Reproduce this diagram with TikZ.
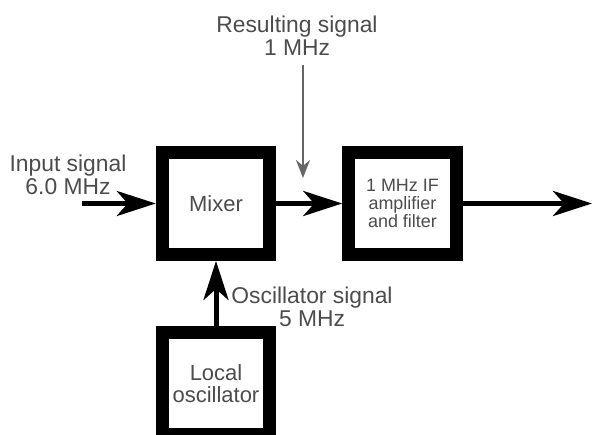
\documentclass[tikz,border=0pt]{standalone}
\usepackage{fontspec}
\setmainfont{Liberation Sans}
\usepackage{xcolor}
\usetikzlibrary{arrows.meta, positioning}

\begin{document}
\begin{tikzpicture}[
    % one unit = one pixel of the reference, y grows downwards
    x=0.02cm, y=-0.02cm,
    node distance=1.3cm and 1.32cm,
    block/.style={rectangle, draw=black, fill=white, line width=0.26cm, align=center,
                  minimum width=2.15cm, minimum height=2.04cm, text=black!70},
    label/.style={align=center, text=black!70, font=\fontsize{13}{13}\selectfont, inner sep=1pt},
    arrow/.style={line width=0.1cm, -{Stealth[length=0.78cm, width=0.5cm, inset=0.22cm]}},
    thinarrow/.style={line width=0.04cm, draw=black!60, -{Stealth[length=0.36cm, width=0.28cm]}}
]
\useasboundingbox (0,0) rectangle (592,435);

%% ── Blocks ──────────────────────────────────────────────────
\node (mixer) [block, font=\fontsize{12.5}{13}\selectfont] at (216,203.5) {Mixer};
\node (ifamp) [block, right=of mixer, font=\fontsize{10.2}{10.4}\selectfont] {1 MHz IF\\amplifier\\and filter};
\node (lo) [block, below=of mixer, font=\fontsize{12.5}{12.5}\selectfont] {Local\\oscillator};

%% ── Labels ──────────────────────────────────────────────────
\node (result) [label] at (297,36) {Resulting signal\\1 MHz};
\node (input) [label] at (68,175) {Input signal\\6.0 MHz};
\node (osc) [label] at (312,307) {Oscillator signal\\5 MHz};

\coordinate (instart) at (82,203.5);
\coordinate (outend) at (592,203.5);
\coordinate (restip) at (303,178);

%% ── Arrows ──────────────────────────────────────────────────
\draw [arrow] (instart) -- (mixer);
\draw [arrow] (mixer) -- (ifamp);
\draw [arrow] (ifamp) -- (outend);
\draw [arrow] (lo) -- (mixer);
\draw [thinarrow] ([yshift=-0.14cm]result.south -| restip) -- (restip);

\end{tikzpicture}
\end{document}
